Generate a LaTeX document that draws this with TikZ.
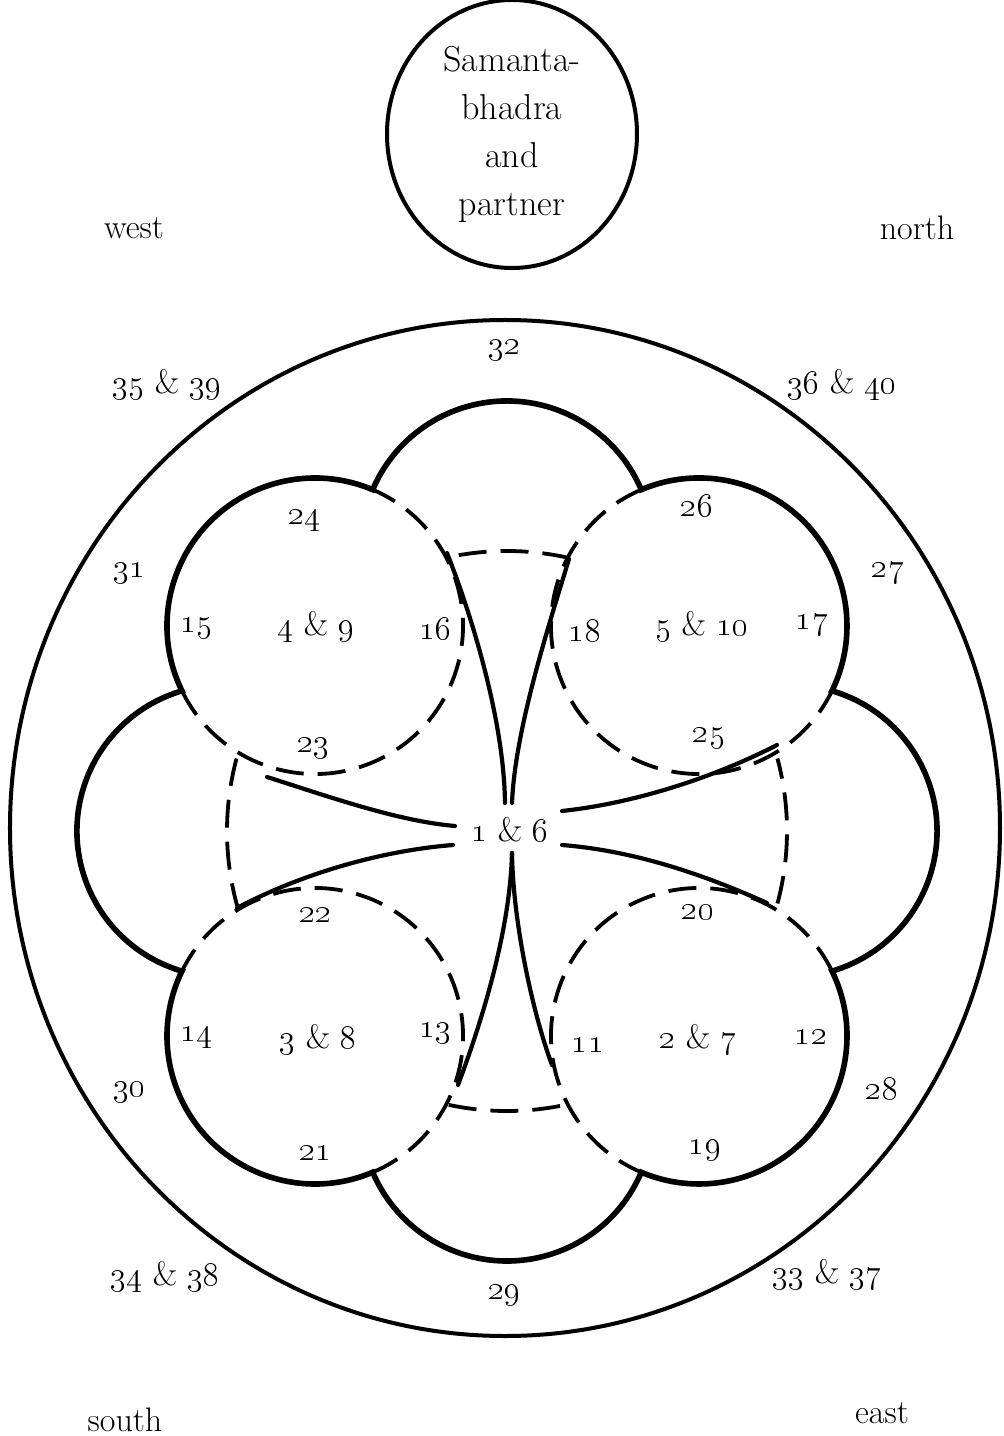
\documentclass[tikz,border=0pt]{standalone}
\usetikzlibrary{positioning, shapes.geometric}
\newcommand{\nm}[1]{\oldstylenums{#1}}

\begin{document}
\begin{tikzpicture}[x=0.5pt, y=0.5pt,
  lobe/.style={line width=2.8pt, line join=miter},
  hidden/.style={line width=1.9pt, dash pattern=on 14pt off 7pt},
  arm/.style={line width=2.1pt, line cap=round},
  ring/.style={line width=2pt},
  num/.style={font=\fontsize{17}{20}\selectfont, inner sep=1pt}]
\useasboundingbox (-507,-605) rectangle (496,831);

% outer ring and the circle on top
\draw[ring] (-2,3) ellipse [x radius=495, y radius=508];
\node[ring, draw, ellipse, minimum width=125pt, minimum height=131pt, align=center,
  font=\fontsize{18}{24}\selectfont] (samanta) at (5,697) {Samanta-\\bhadra\\and\\partner};

% quarters
\node[num] (west) at (-373,603) {west};
\node[num] (north) at (410,603) {north};
\node[num] (south) at (-382,-589) {south};
\node[num] (east) at (375,-582) {east};

% cloud outline: four lobes and the outer halves of four circles
\draw[lobe] (-134.3,341.3)
  arc[start angle=156.9, end angle=23.1, radius=146]
  arc[start angle=112.95, end angle=-26, radius=148]
  arc[start angle=73.7, end angle=-73.7, radius=146]
  arc[start angle=26, end angle=-112.95, radius=148]
  arc[start angle=-23.1, end angle=-156.9, radius=146]
  arc[start angle=-67.05, end angle=-206, radius=148]
  arc[start angle=-106.3, end angle=-253.7, radius=146]
  arc[start angle=206, end angle=67.05, radius=148]
  -- cycle;

% inner halves of the circles
\draw[hidden] (-192,205) ++(206:148) arc[start angle=206, end angle=427.05, radius=148];
\draw[hidden] (192,205) ++(112.95:148) arc[start angle=112.95, end angle=334, radius=148];
\draw[hidden] (-192,-205) ++(-67.05:148) arc[start angle=-67.05, end angle=154, radius=148];
\draw[hidden] (192,-205) ++(26:148) arc[start angle=26, end angle=247.05, radius=148];

% ends of the cross arms
\foreach \a/\b in {77/102, 165/196, 258/282, -15/15}
  \draw[hidden] (0,0) ++(\a:280) arc[start angle=\a, end angle=\b, radius=280];

% cross arms
\draw[arm] (-2,28) .. controls (-3,110) and (-35,215) .. (-60,278);
\draw[arm] (5,28) .. controls (8,100) and (40,200) .. (62,272);
\draw[arm] (5,-22) .. controls (3,-100) and (-25,-190) .. (-49,-254);
\draw[arm] (5,-22) .. controls (6,-90) and (25,-180) .. (45,-234);
\draw[arm] (-52,5) .. controls (-110,10) and (-180,35) .. (-240,54);
\draw[arm] (-54,-14) .. controls (-130,-20) and (-210,-45) .. (-270,-77);
\draw[arm] (55,20) .. controls (130,28) and (210,55) .. (270,86);
\draw[arm] (55,-14) .. controls (130,-20) and (200,-45) .. (260,-72);

% numbers
\node[num] (core) at (3,1) {\nm{1} \& \nm{6}};
\node[num] (n49) at (-191,204) {\nm{4} \& \nm{9}};
\node[num] (n510) at (195,204) {\nm{5} \& \nm{10}};
\node[num] (n38) at (-189,-209) {\nm{3} \& \nm{8}};
\node[num] (n27) at (191,-209) {\nm{2} \& \nm{7}};
\node[num] (n32) at (-2,481) {\nm{32}};
\node[num] (n29) at (-2,-464) {\nm{29}};
\node[num] (n3539) at (-340,446) {\nm{35} \& \nm{39}};
\node[num] (n3640) at (335,446) {\nm{36} \& \nm{40}};
\node[num] (n3438) at (-342,-446) {\nm{34} \& \nm{38}};
\node[num] (n3337) at (320,-444) {\nm{33} \& \nm{37}};
\node[num] (n31) at (-377,258) {\nm{31}};
\node[num] (n27b) at (381,258) {\nm{27}};
\node[num] (n30) at (-377,-261) {\nm{30}};
\node[num] (n28) at (375,-257) {\nm{28}};
\node[num] (n24) at (-202,311) {\nm{24}};
\node[num] (n26) at (190,326) {\nm{26}};
\node[num] (n23) at (-193,83) {\nm{23}};
\node[num] (n25) at (202,93) {\nm{25}};
\node[num] (n22) at (-191,-84) {\nm{22}};
\node[num] (n20) at (191,-81) {\nm{20}};
\node[num] (n21) at (-191,-322) {\nm{21}};
\node[num] (n19) at (198,-319) {\nm{19}};
\node[num] (n15) at (-310,203) {\nm{15}};
\node[num] (n16) at (-71,203) {\nm{16}};
\node[num] (n18) at (78,201) {\nm{18}};
\node[num] (n17) at (305,206) {\nm{17}};
\node[num] (n14) at (-310,-206) {\nm{14}};
\node[num] (n13) at (-71,-202) {\nm{13}};
\node[num] (n11) at (81,-214) {\nm{11}};
\node[num] (n12) at (304,-206) {\nm{12}};
\end{tikzpicture}
\end{document}
